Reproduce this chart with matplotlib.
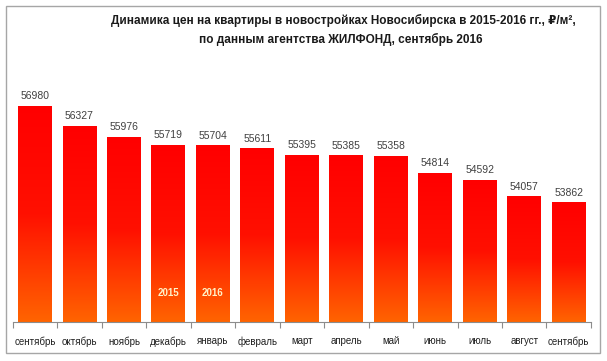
import numpy as np
import matplotlib.pyplot as plt
from matplotlib.colors import LinearSegmentedColormap
from matplotlib.patches import Rectangle

months = ['сентябрь', 'октябрь', 'ноябрь', 'декабрь', 'январь', 'февраль', 'март',
          'апрель', 'май', 'июнь', 'июль', 'август', 'сентябрь']
prices = [56980, 56327, 55976, 55719, 55704, 55611, 55395, 55385, 55358,
          54814, 54592, 54057, 53862]
year_marks = {3: '2015', 4: '2016'}

plt.rcParams['font.family'] = ['Liberation Sans', 'DejaVu Sans']

fig = plt.figure(figsize=(6.07, 3.61), dpi=100)
ax = fig.add_axes([0.0209, 0.1072, 0.9527, 0.6908])

x = np.arange(len(months))
bars = ax.bar(x, prices, width=0.76, bottom=0, color='none')
ax.set_xlim(-0.5, len(months) - 0.5)
ax.set_ylim(50000, 58080)

# вертикальный градиент красный -> оранжевый в каждом столбце
cmap = LinearSegmentedColormap.from_list('ro', ['#ff0000', '#ff1000', '#ff6400'])
grad = np.linspace(0, 1, 256).reshape(-1, 1)
for b in bars:
    x0, w, h = b.get_x(), b.get_width(), b.get_height()
    ax.imshow(grad, cmap=cmap, aspect='auto', extent=(x0, x0 + w, 50000, h),
              origin='upper', zorder=2)

for i, v in enumerate(prices):
    ax.annotate(str(v), (x[i], v), xytext=(0, 4), textcoords='offset points',
                ha='center', va='bottom', fontsize=7.5, color='#404040')

for i, t in year_marks.items():
    ax.text(x[i], 50950, t, ha='center', va='center', fontsize=7, color='#fff2c8',
            fontweight='bold', zorder=3)

for s in ['left', 'right', 'top']:
    ax.spines[s].set_visible(False)
ax.spines['bottom'].set_color('#8c8c8c')
ax.spines['bottom'].set_linewidth(0.8)
ax.set_yticks([])
ax.set_xticks(x)
ax.set_xticklabels(months, fontsize=7, color='#202020')
ax.tick_params(axis='x', which='major', length=0, pad=10)
ax.set_xticks(np.arange(-0.5, len(months)), minor=True)
ax.tick_params(axis='x', which='minor', length=4, color='#8c8c8c', width=0.8)

fig.text(0.565, 0.944, 'Динамика цен на квартиры в новостройках Новосибирска в 2015-2016 гг., ₽/м²,',
         ha='center', va='center', fontsize=8.5, fontweight='bold', color='#1a1a1a')
fig.text(0.562, 0.892, 'по данным агентства ЖИЛФОНД, сентябрь 2016',
         ha='center', va='center', fontsize=8.5, fontweight='bold', color='#1a1a1a')

# рамка вокруг диаграммы
fig.patches.append(Rectangle((6 / 607, 8 / 361), 594 / 607, 347 / 361, transform=fig.transFigure,
                             fill=False, edgecolor='#a6a6a6', linewidth=1.0))

plt.savefig('out.png', dpi=100)
